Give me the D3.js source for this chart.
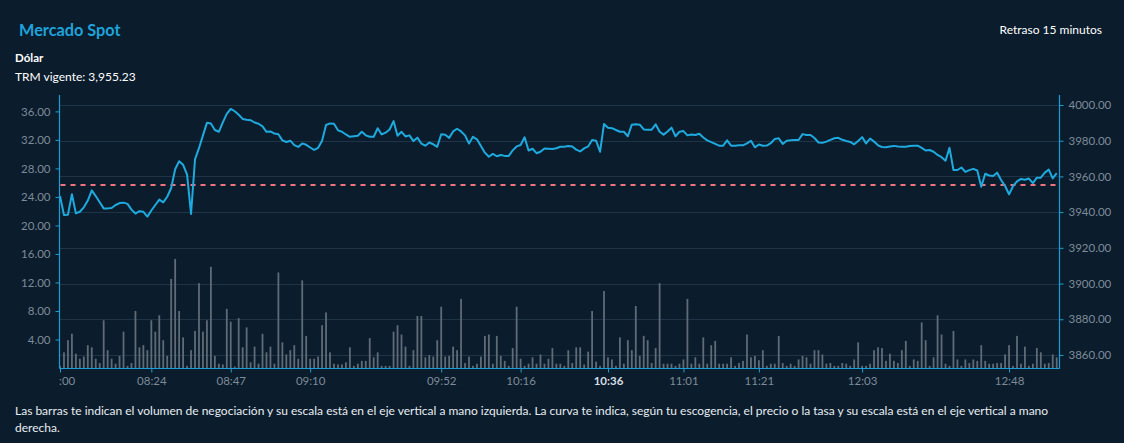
<!DOCTYPE html>
<html>
<head>
<meta charset="utf-8">
<script src="https://cdn.jsdelivr.net/npm/d3@7"></script>
<style>
  html, body { margin: 0; padding: 0; background: #0a1b2b; }
  svg { display: block; }
  text { font-family: Lato, "Noto Sans", sans-serif; }
</style>
</head>
<body>
<svg id="chart" width="1124" height="443"></svg>
<script>
// ---- Data ----
const priceValues = [
3949.0,3938.4,3938.5,3950.0,3939.3,3940.2,3942.7,3946.5,3952.2,3949.0,
3945.5,3942.1,3942.1,3942.3,3944.0,3945.1,3945.3,3944.6,3941.4,3939.2,
3940.5,3940.2,3937.5,3940.9,3944.0,3947.0,3945.5,3948.6,3953.5,3964.0,
3968.5,3966.5,3961.0,3939.0,3969.5,3975.8,3983.0,3990.0,3989.6,3986.0,
3985.0,3990.3,3995.0,3997.8,3996.5,3994.5,3992.2,3991.7,3991.5,3990.2,
3989.5,3988.0,3985.0,3985.2,3984.0,3983.6,3980.2,3979.3,3980.0,3977.5,
3976.5,3978.5,3977.7,3976.2,3974.8,3976.0,3980.0,3988.8,3989.7,3989.5,
3985.8,3985.0,3983.5,3982.2,3982.5,3982.8,3985.0,3983.0,3982.2,3982.2,
3987.0,3983.5,3984.5,3986.3,3991.0,3982.8,3985.0,3982.4,3983.0,3979.8,
3981.7,3978.4,3977.2,3979.0,3978.0,3976.6,3983.6,3983.3,3981.6,3985.2,
3986.7,3985.2,3983.0,3978.4,3982.2,3980.8,3977.0,3973.3,3971.0,3972.6,
3971.3,3972.0,3971.5,3971.5,3974.6,3976.8,3977.6,3981.9,3974.5,3975.5,
3973.0,3973.8,3975.6,3975.5,3975.3,3975.8,3976.6,3976.6,3977.0,3976.8,
3975.0,3974.0,3975.7,3976.8,3980.4,3980.0,3973.8,3989.4,3987.3,3987.0,
3986.0,3985.0,3985.0,3982.5,3989.0,3989.2,3989.0,3986.3,3986.2,3986.2,
3989.2,3985.0,3983.4,3985.2,3987.3,3982.5,3985.0,3985.4,3983.0,3983.5,
3983.2,3983.9,3981.8,3980.2,3979.2,3978.2,3977.2,3977.2,3980.2,3977.2,
3977.2,3977.4,3977.4,3978.5,3980.0,3976.3,3977.9,3977.2,3977.3,3978.6,
3981.0,3981.4,3978.2,3980.0,3980.3,3980.4,3980.4,3983.7,3983.2,3983.2,
3981.5,3979.0,3978.8,3979.5,3980.5,3981.4,3981.6,3980.5,3979.8,3979.3,
3978.0,3979.8,3982.0,3978.5,3981.2,3979.5,3977.4,3976.5,3976.3,3976.8,
3977.1,3976.7,3976.6,3976.6,3977.0,3977.2,3977.2,3976.0,3974.5,3974.8,
3973.8,3972.0,3970.8,3968.8,3976.0,3963.6,3963.6,3965.0,3962.5,3963.5,
3964.2,3963.3,3954.2,3961.5,3960.5,3960.2,3962.1,3958.0,3954.6,3950.0,
3954.5,3957.2,3958.6,3958.1,3958.8,3956.2,3959.3,3959.3,3962.1,3963.8,
3958.9,3961.8
];
const volumeValues = [
0.3,2.2,3.9,4.8,2.0,1.3,1.6,3.2,2.9,1.3,
0.7,6.7,2.5,1.3,0.6,1.7,5.1,0.3,0.7,8.0,
2.9,3.2,2.5,6.7,5.1,7.4,3.9,1.7,12.5,15.3,
8.0,4.3,0.3,2.5,5.2,11.9,5.1,6.7,14.2,1.7,
0.6,0.5,8.3,6.5,0.2,7.0,2.9,5.7,0.8,3.0,
0.6,4.8,2.2,3.0,0.6,13.4,3.6,1.9,2.5,3.2,
1.3,12.3,4.5,1.3,1.3,1.6,6.0,7.8,2.2,0.6,
0.5,0.5,0.8,2.9,0.3,0.6,1.0,1.0,4.2,1.5,
2.2,0.3,0.3,0.3,5.1,6.0,4.7,3.0,0.3,2.5,
7.3,7.3,1.5,1.8,1.6,3.9,8.6,1.6,1.7,3.0,
2.5,9.7,0.7,1.6,0.3,0.6,1.6,4.5,4.7,0.6,
4.5,1.7,1.0,0.3,2.8,8.6,1.3,0.3,0.6,1.5,
0.6,1.9,0.6,1.3,2.8,0.6,0.6,0.3,2.5,0.7,
2.9,2.9,0.5,2.3,8.0,0.9,0.3,10.8,1.5,1.2,
0.3,4.3,0.6,3.9,2.5,8.7,1.7,4.5,3.9,0.7,
2.8,11.9,0.6,0.6,0.6,0.3,0.6,1.2,9.7,0.6,
1.5,0.6,4.3,0.6,3.2,3.8,0.6,0.6,0.6,1.5,
0.3,0.7,1.0,4.7,1.5,1.7,1.1,2.5,0.3,0.6,
0.6,4.5,0.7,0.3,0.6,0.3,1.2,1.7,1.5,0.6,
2.5,2.5,1.9,0.6,0.7,0.3,0.3,0.7,0.6,0.3,
1.2,3.6,0.3,0.3,0.6,2.5,2.9,2.8,1.0,2.0,
1.0,0.7,2.5,3.8,0.3,1.2,1.0,6.4,3.9,0.3,
1.5,7.4,4.7,0.6,0.3,5.2,1.2,0.3,1.2,0.7,
1.2,1.0,3.2,1.0,0.6,0.6,0.7,0.7,1.9,3.2,
0.3,4.5,0.6,3.0,0.3,0.6,2.8,2.2,0.6,0.7,
1.9,1.5
];
const tickLabels = ["08:00","08:24","08:47","09:10","09:52","10:16","10:36","11:01","11:21","12:03","12:48"];
const tickIndex  = [0,23,43,63,96,116,138,157,176,202,239];
const highlightedTick = "10:36";
const leftTicks  = [4,8,12,16,20,24,28,32,36];
const rightTicks = [3860,3880,3900,3920,3940,3960,3980,4000];
const trm = 3955.23;
const leftDomain = [0, 38.3];
const rightDomain = [3852.7, 4005.6];

// ---- Layout ----
const svg = d3.select("#chart");
const L = 59.5, R = 1059.5, T = 95, B = 368.5;
const N = priceValues.length;
const axisColor = "#1c9ed4";
const tickTextColor = "#7d8b98";

const x = d3.scalePoint().domain(d3.range(N)).range([60, 1056.7]);
const yL = d3.scaleLinear().domain(leftDomain).range([368, T]);
const yR = d3.scaleLinear().domain(rightDomain).range([368, T]);

svg.append("rect").attr("width", 1124).attr("height", 443).attr("fill", "#0b1c2c");

// Header texts
svg.append("text").attr("x", 19).attr("y", 36)
  .attr("fill", "#1ea3da").attr("font-size", 16.3).attr("font-weight", 700)
  .text("Mercado Spot");
svg.append("text").attr("x", 1102).attr("y", 34).attr("text-anchor", "end")
  .attr("fill", "#ffffff").attr("font-size", 12)
  .text("Retraso 15 minutos");
svg.append("text").attr("x", 15).attr("y", 62)
  .attr("fill", "#ffffff").attr("font-size", 11.5).attr("font-weight", 700)
  .text("Dólar");
svg.append("text").attr("x", 15).attr("y", 81)
  .attr("fill", "#ffffff").attr("font-size", 12)
  .text("TRM vigente: 3,955.23");

// Grid (right-axis ticks)
svg.append("g").selectAll("line").data(rightTicks).join("line")
  .attr("x1", L).attr("x2", R)
  .attr("y1", d => Math.round(yR(d)) + 0.5).attr("y2", d => Math.round(yR(d)) + 0.5)
  .attr("stroke", "#1f3446").attr("stroke-width", 1);

// Bars
svg.append("g").selectAll("rect").data(volumeValues).join("rect")
  .attr("x", (d, i) => x(i) - 0.9)
  .attr("width", 1.8)
  .attr("y", d => yL(d))
  .attr("height", d => 368 - yL(d))
  .attr("fill", "#5f6b76");

// TRM dashed line
svg.append("line")
  .attr("x1", L + 1).attr("x2", R - 1)
  .attr("y1", yR(trm)).attr("y2", yR(trm))
  .attr("stroke", "#f0727f").attr("stroke-width", 2)
  .attr("stroke-dasharray", "5,5");

// Price line
const line = d3.line().x((d, i) => x(i)).y(d => yR(d));
svg.append("path").datum(priceValues)
  .attr("d", line).attr("fill", "none")
  .attr("stroke", "#1eaadf").attr("stroke-width", 2).attr("stroke-linejoin", "round");

// Left axis
const gL = svg.append("g").attr("transform", `translate(${L},0)`)
  .call(d3.axisLeft(yL).tickValues(leftTicks).tickFormat(d3.format(".2f")).tickSize(4).tickPadding(5));
// Right axis
const gR = svg.append("g").attr("transform", `translate(${R},0)`)
  .call(d3.axisRight(yR).tickValues(rightTicks).tickFormat(d3.format(".2f")).tickSize(4).tickPadding(5));
// Bottom axis
svg.append("defs").append("clipPath").attr("id", "xclip")
  .append("rect").attr("x", 59).attr("y", 360).attr("width", 1070).attr("height", 40);
const xAxis = d3.axisBottom(x).tickValues(tickIndex)
  .tickFormat(i => tickLabels[tickIndex.indexOf(i)]).tickSize(4).tickPadding(4);
const gB = svg.append("g").attr("clip-path", "url(#xclip)")
  .append("g").attr("transform", `translate(0,${B})`).call(xAxis);
gB.select(".domain").attr("d", `M${L},0H${R}`);

[gL, gR, gB].forEach(g => {
  g.select(".domain").attr("stroke", axisColor).attr("stroke-width", 1.2);
  g.selectAll(".tick line").attr("stroke", axisColor);
  g.selectAll(".tick text").attr("fill", tickTextColor)
    .attr("font-size", 11.5).attr("font-family", "Lato, 'Noto Sans', sans-serif");
});
gL.select(".domain").attr("d", `M0,${T}V${B}`);
gR.select(".domain").attr("d", `M0,${T}V${B}`);
gB.selectAll(".tick text")
  .filter(function() { return d3.select(this).text() === highlightedTick; })
  .attr("fill", "#d6dde3").attr("font-weight", 700);

// Footer
svg.append("text").attr("x", 15).attr("y", 415)
  .attr("fill", "#e8edf1").attr("font-size", 12)
  .text("Las barras te indican el volumen de negociación y su escala está en el eje vertical a mano izquierda. La curva te indica, según tu escogencia, el precio o la tasa y su escala está en el eje vertical a mano");
svg.append("text").attr("x", 15).attr("y", 432)
  .attr("fill", "#e8edf1").attr("font-size", 12)
  .text("derecha.");
</script>
</body>
</html>
